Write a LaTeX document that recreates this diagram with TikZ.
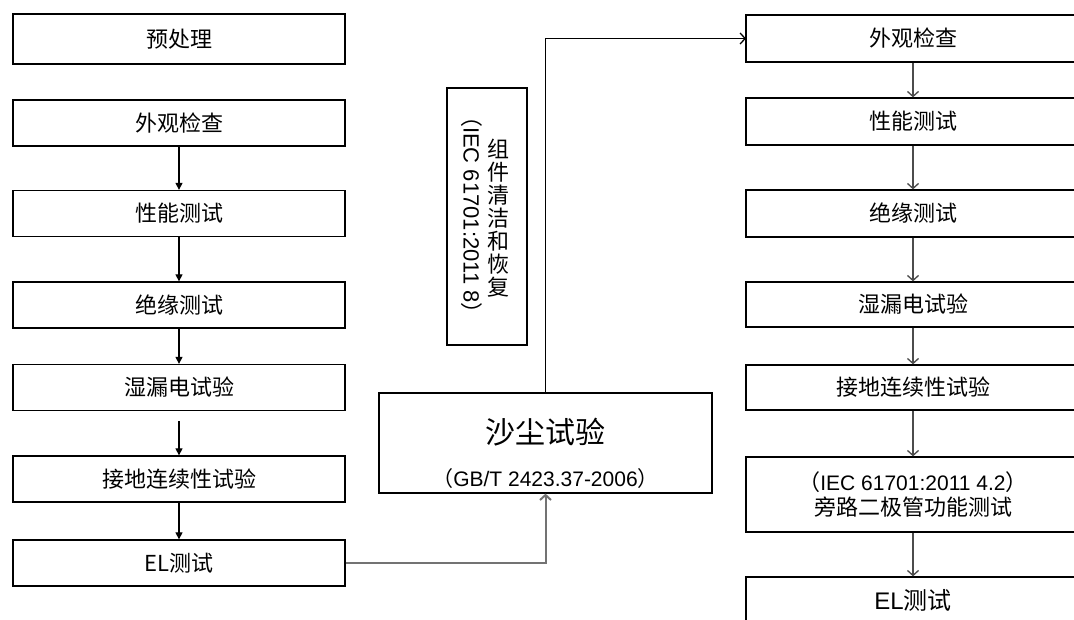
\documentclass[tikz,border=0pt]{standalone}
\usepackage{fontspec}
\setmainfont{Noto Sans CJK SC}
\newfontfamily\lat{Liberation Sans}
\usetikzlibrary{arrows.meta}
\begin{document}
\begin{tikzpicture}[x=1pt,y=-1pt,
  box/.style={draw, line width=1.3pt, inner sep=0pt, align=center, font=\fontsize{22}{25}\selectfont},
  lbox/.style={box, minimum width=332pt, minimum height=46pt},
  rbox/.style={box, minimum width=334pt, minimum height=47pt},
  larr/.style={draw, line width=1.2pt, -{Triangle[length=7pt,width=7pt]}},
  rarr/.style={draw=black!70, line width=1.3pt, -{Straight Barb[length=5pt,width=11pt]}},
  garr/.style={draw=black!55, line width=2pt, -{Straight Barb[length=5pt,width=11pt]}},
  karr/.style={draw, line width=1.3pt, -{Straight Barb[length=5pt,width=11pt]}},
  txt/.style={inner sep=0pt}]
\useasboundingbox (0,0) rectangle (1074,619);
\clip (0,0) rectangle (1074,619);
\fill[white] (0,0) rectangle (1074,619);
% left column
\node[lbox, minimum height=50pt] (l1) at (179,39) {预处理};
\node[lbox] (l2) at (179,123) {外观检查};
\node[lbox] (l3) at (179,213.5) {性能测试};
\node[lbox] (l4) at (179,305) {绝缘测试};
\node[lbox] (l5) at (179,387.5) {湿漏电试验};
\node[lbox] (l6) at (179,479) {接地连续性试验};
\node[lbox] (l7) at (179,563) {EL测试};
\draw[larr] (l2.south) -- (l3.north);
\draw[larr] (l3.south) -- (l4.north);
\draw[larr] (l4.south) -- (l5.north);
\draw[larr] ([yshift=-10pt]l5.south) -- (l6.north);
\draw[larr] (l6.south) -- (l7.north);
% middle
\node[draw, line width=1.2pt, minimum width=80pt, minimum height=257pt, inner sep=0pt] (vbox) at (487,216.5) {};
\node[txt, align=center, font=\fontsize{22}{23}\selectfont] (vcjk) at (498,218) {组\\件\\清\\洁\\和\\恢\\复};
\node[txt, rotate=-90, font=\fontsize{22}{24}\selectfont] (vlat) at (472,215) {（{\lat IEC 61701:2011 8}）};
\node[draw, line width=1.3pt, minimum width=333pt, minimum height=100pt, inner sep=0pt] (sand) at (545.5,443) {};
\node[txt, font=\fontsize{30}{32}\selectfont] (sandt) at (545.5,432) {沙尘试验};
\node[txt, font=\fontsize{21}{24}\selectfont] (sandg) at (545.5,479) {（{\lat GB/T 2423.37-2006}）};
\draw[garr] (l7.east) -| (sand.south);
\draw[karr] (sand.north) |- (746,38.5) coordinate (r1in);
% right column
\node[rbox] (r1) at (913,38.5) {外观检查};
\node[rbox] (r2) at (913,121.5) {性能测试};
\node[rbox] (r3) at (913,213.5) {绝缘测试};
\node[rbox, minimum height=45pt] (r4) at (913,304.5) {湿漏电试验};
\node[rbox, minimum height=45pt] (r5) at (913,387.5) {接地连续性试验};
\node[rbox, minimum height=75pt] (r6) at (913,494.5) {（{\lat\fontsize{21}{25}\selectfont IEC 61701:2011 4.2}）\\旁路二极管功能测试};
\node[rbox, minimum height=46pt, font=\fontsize{24}{26}\selectfont] (r7) at (913,600) {{\lat EL}测试};
\draw[rarr] (r1.south) -- (r2.north);
\draw[rarr] (r2.south) -- (r3.north);
\draw[rarr] (r3.south) -- (r4.north);
\draw[rarr] (r4.south) -- (r5.north);
\draw[rarr] (r5.south) -- (r6.north);
\draw[rarr] (r6.south) -- (r7.north);
\end{tikzpicture}
\end{document}
